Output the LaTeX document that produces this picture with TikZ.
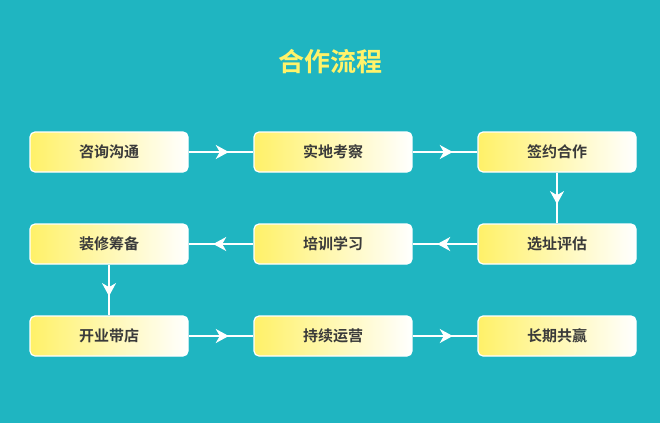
\documentclass[tikz,border=0pt]{standalone}
\usepackage{fontspec}
\newfontfamily\cjk{Noto Sans CJK SC}[BoldFont={* Bold}]
\usetikzlibrary{decorations.markings,arrows.meta}
\definecolor{bg}{HTML}{1FB5C1}
\definecolor{ttl}{HTML}{FFF36A}
\definecolor{bx}{HTML}{FFF168}
\definecolor{tx}{HTML}{3A3A3A}
\begin{document}
\begin{tikzpicture}[x=1pt,y=-1pt,
  stepbox/.style={draw=white,line width=1.2pt,rounded corners=5pt,minimum width=158pt,minimum height=40pt,
    left color=bx,right color=white,font=\cjk\bfseries\fontsize{15}{15}\selectfont,text=tx,inner sep=0pt},
  flow/.style={draw=white,line width=1.5pt,postaction={decorate},decoration={markings,
    mark=at position 0.62 with {\arrow{Stealth[length=13pt,width=14pt,inset=4pt]}}}}]
\fill[bg] (0,0) rectangle (660,423);
\useasboundingbox (0,0) rectangle (660,423);
\node[font=\cjk\bfseries\fontsize{26}{26}\selectfont,text=ttl] (title) at (330,62) {合作流程};
\node[stepbox] (a) at (109,152) {咨询沟通};
\node[stepbox] (b) at (333,152) {实地考察};
\node[stepbox] (c) at (557,152) {签约合作};
\node[stepbox] (f) at (109,244) {装修筹备};
\node[stepbox] (e) at (333,244) {培训学习};
\node[stepbox] (d) at (557,244) {选址评估};
\node[stepbox] (g) at (109,336) {开业带店};
\node[stepbox] (h) at (333,336) {持续运营};
\node[stepbox] (i) at (557,336) {长期共赢};
\draw[flow] (a) -- (b);
\draw[flow] (b) -- (c);
\draw[flow] (c) -- (d);
\draw[flow] (d) -- (e);
\draw[flow] (e) -- (f);
\draw[flow] (f) -- (g);
\draw[flow] (g) -- (h);
\draw[flow] (h) -- (i);
\end{tikzpicture}
\end{document}
